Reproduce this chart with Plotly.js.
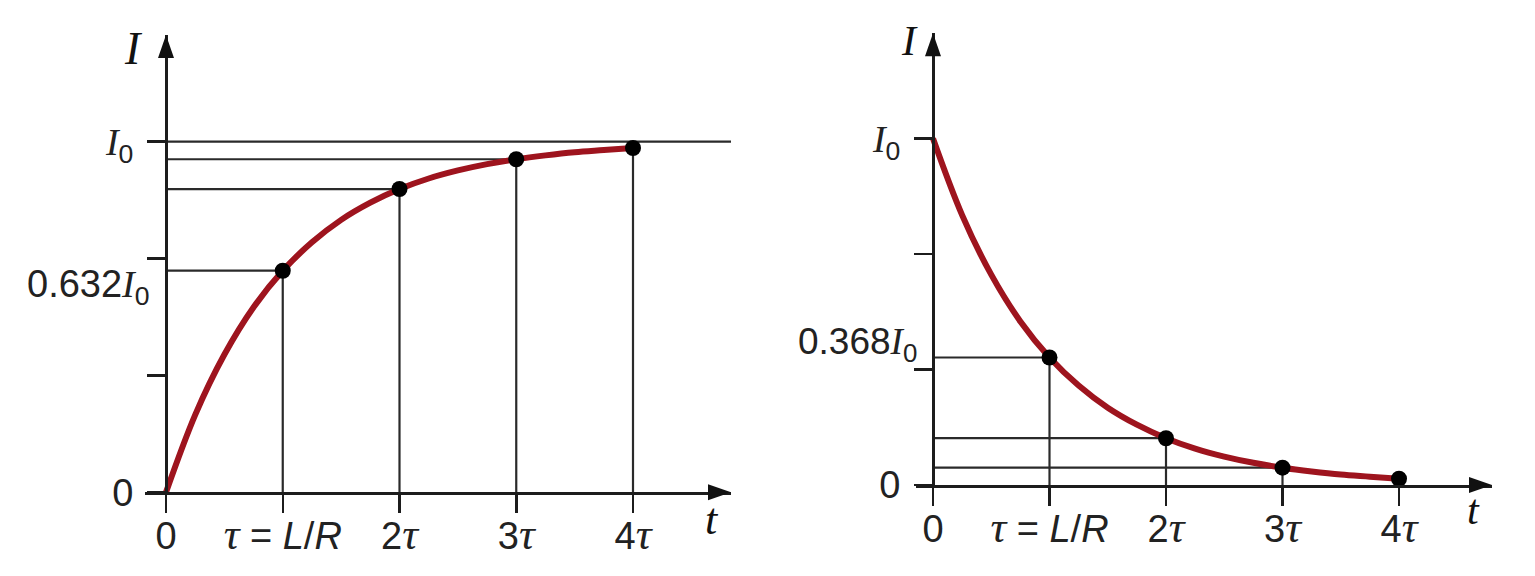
<!DOCTYPE html>
<html>
<head>
<meta charset="utf-8">
<script src="https://cdn.plot.ly/plotly-3.0.1.min.js"></script>
<style>html,body{margin:0;padding:0;background:#fff;}#chart{width:1535px;height:576px;}</style>
</head>
<body>
<div id="chart"></div>
<script>
// ---- data ----
const tauTicks = [0, 1, 2, 3, 4];
const SERIF = 'Liberation Serif';
const tau = '<span style="font-family:' + SERIF + ';font-size:44px"><i>τ</i></span>';
const tickLabels = ['0', tau + ' = <i>L</i>/<i>R</i>', '2' + tau, '3' + tau, '4' + tau];
const I0 = '<span style="font-family:' + SERIF + '"><i>I</i></span><sub>0</sub>';
const yLabelVals = [0, 1];
const yLabelText = ['0', I0];
const yMinorVals = [1/3, 2/3];

const curveT = [0, 0.25, 0.5, 0.75, 1, 1.25, 1.5, 1.75, 2, 2.25, 2.5, 2.75, 3, 3.25, 3.5, 3.75, 4];
const riseCurve = [0, 0.221, 0.393, 0.528, 0.632, 0.713, 0.777, 0.826, 0.865, 0.895, 0.918, 0.936, 0.95, 0.961, 0.97, 0.976, 0.982];
const decayCurve = [1, 0.779, 0.607, 0.472, 0.368, 0.287, 0.223, 0.174, 0.135, 0.105, 0.082, 0.064, 0.05, 0.039, 0.03, 0.024, 0.018];

// marked points
const pointT = [1, 2, 3, 4];
const risePts = [0.632, 0.865, 0.95, 0.982];
const decayPts = [0.368, 0.135, 0.05, 0.018];

// ---- layout constants (pixel geometry) ----
const W = 1535, H = 576;
const CURVE = '#9e141e';
const INK = '#1c1c1c';
const TICKFONT = {family: 'Liberation Sans, Arial, sans-serif', size: 38, color: '#222'};

const L = {x0px: 145, x1px: 731, yAxisPx: 166, pxPerTau: 116.75, yZeroPx: 492.3, yOnePx: 141.7, yTopPx: 35};
const R = {x0px: 916, x1px: 1492, yAxisPx: 933, pxPerTau: 116.5, yZeroPx: 485, yOnePx: 138.5, yTopPx: 33.3};

function xRange(g) { return [(g.x0px - g.yAxisPx) / g.pxPerTau, (g.x1px - g.yAxisPx) / g.pxPerTau]; }
function yTop(g) { return (g.yZeroPx - g.yTopPx) / (g.yZeroPx - g.yOnePx); }

function xaxisDef(g, anchor) {
  return {
    domain: [g.x0px / W, g.x1px / W], range: xRange(g), anchor: anchor,
    showgrid: false, zeroline: false, showline: true, linecolor: INK, linewidth: 3,
    ticks: 'outside', ticklen: 18, tickwidth: 2.5, tickcolor: INK,
    tickvals: tauTicks, ticktext: tickLabels, tickfont: TICKFONT, ticklabelstandoff: -10,
    fixedrange: true
  };
}
function yaxisDef(g) {
  return {
    domain: [(H - g.yZeroPx) / H, (H - g.yTopPx) / H], range: [0, yTop(g)],
    anchor: 'free', position: g.yAxisPx / W,
    showgrid: false, zeroline: false, showline: true, linecolor: INK, linewidth: 3,
    ticks: 'outside', ticklen: 18, tickwidth: 2.5, tickcolor: INK,
    tickvals: yLabelVals, ticktext: yLabelText, tickfont: TICKFONT, ticklabelstandoff: 6,
    minor: {tickvals: yMinorVals, ticks: 'outside', ticklen: 18, tickwidth: 2.5, tickcolor: INK, showgrid: false},
    fixedrange: true
  };
}

const traces = [
  {x: curveT, y: riseCurve, xaxis: 'x', yaxis: 'y', mode: 'lines', line: {color: CURVE, width: 6, shape: 'spline', smoothing: 1}, cliponaxis: false, hoverinfo: 'skip'},
  {x: pointT, y: risePts, xaxis: 'x', yaxis: 'y', mode: 'markers', marker: {color: '#000', size: 16}, cliponaxis: false},
  {x: curveT, y: decayCurve, xaxis: 'x2', yaxis: 'y2', mode: 'lines', line: {color: CURVE, width: 6, shape: 'spline', smoothing: 1}, cliponaxis: false, hoverinfo: 'skip'},
  {x: pointT, y: decayPts, xaxis: 'x2', yaxis: 'y2', mode: 'markers', marker: {color: '#000', size: 16}, cliponaxis: false}
];

const shapes = [];
function guides(xr, yr, vals) {
  pointT.forEach((t, i) => {
    if (i < 3) shapes.push({type: 'line', xref: xr, yref: yr, x0: 0, x1: t, y0: vals[i], y1: vals[i], line: {color: '#2a2a2a', width: 2.2}, layer: 'below'});
    shapes.push({type: 'line', xref: xr, yref: yr, x0: t, x1: t, y0: 0, y1: vals[i], line: {color: '#2a2a2a', width: 2.2}, layer: 'below'});
  });
}
guides('x', 'y', risePts);
guides('x2', 'y2', decayPts);
shapes.push({type: 'line', xref: 'x', yref: 'y', x0: 0, x1: xRange(L)[1], y0: 1, y1: 1, line: {color: '#2a2a2a', width: 2.2}, layer: 'below'});

// arrowheads at the axis ends (pixel sized)
function arrows(xr, yr, g) {
  shapes.push({type: 'path', xref: 'paper', yref: yr, xsizemode: 'pixel', ysizemode: 'pixel', xanchor: g.yAxisPx / W, yanchor: yTop(g),
    path: 'M0,0 L-8,-23 L8,-23 Z', fillcolor: '#111', line: {width: 0}});
  shapes.push({type: 'path', xref: xr, yref: 'paper', xsizemode: 'pixel', ysizemode: 'pixel', xanchor: xRange(g)[1], yanchor: (H - g.yZeroPx) / H,
    path: 'M0,0 L-23,8 L-23,-8 Z', fillcolor: '#111', line: {width: 0}});
}
arrows('x', 'y', L);
arrows('x2', 'y2', R);

const serif = size => ({family: SERIF, size: size, color: '#111'});
const annotations = [
  {xref: 'x', yref: 'y', x: 0, y: yTop(L), text: '<i>I</i>', showarrow: false, xanchor: 'center', yanchor: 'middle', xshift: -33, yshift: -14, font: serif(46)},
  {xref: 'x', yref: 'y', x: xRange(L)[1], y: 0, text: '<i>t</i>', showarrow: false, xanchor: 'center', yanchor: 'middle', xshift: -19, yshift: -27, font: serif(44)},
  {xref: 'x2', yref: 'y2', x: 0, y: yTop(R), text: '<i>I</i>', showarrow: false, xanchor: 'center', yanchor: 'middle', xshift: -24, yshift: -8, font: serif(42)},
  {xref: 'x2', yref: 'y2', x: xRange(R)[1], y: 0, text: '<i>t</i>', showarrow: false, xanchor: 'center', yanchor: 'middle', xshift: -19, yshift: -25, font: serif(42)},
  {xref: 'x', yref: 'y', x: 0, y: risePts[0], text: '0.632' + I0, showarrow: false, xanchor: 'right', yanchor: 'top', xshift: -14, yshift: 10, font: TICKFONT},
  {xref: 'x2', yref: 'y2', x: 0, y: decayPts[0], text: '0.368' + I0, showarrow: false, xanchor: 'right', yanchor: 'bottom', xshift: -14, yshift: -12, font: Object.assign({}, TICKFONT, {size: 37})}
];

const layout = {
  width: W, height: H, margin: {l: 0, r: 0, t: 0, b: 0},
  paper_bgcolor: '#fff', plot_bgcolor: 'rgba(0,0,0,0)', showlegend: false,
  xaxis: xaxisDef(L, 'y'), yaxis: yaxisDef(L),
  xaxis2: xaxisDef(R, 'y2'), yaxis2: yaxisDef(R),
  shapes: shapes, annotations: annotations
};

Plotly.newPlot('chart', traces, layout, {staticPlot: true, displayModeBar: false});
</script>
</body>
</html>
